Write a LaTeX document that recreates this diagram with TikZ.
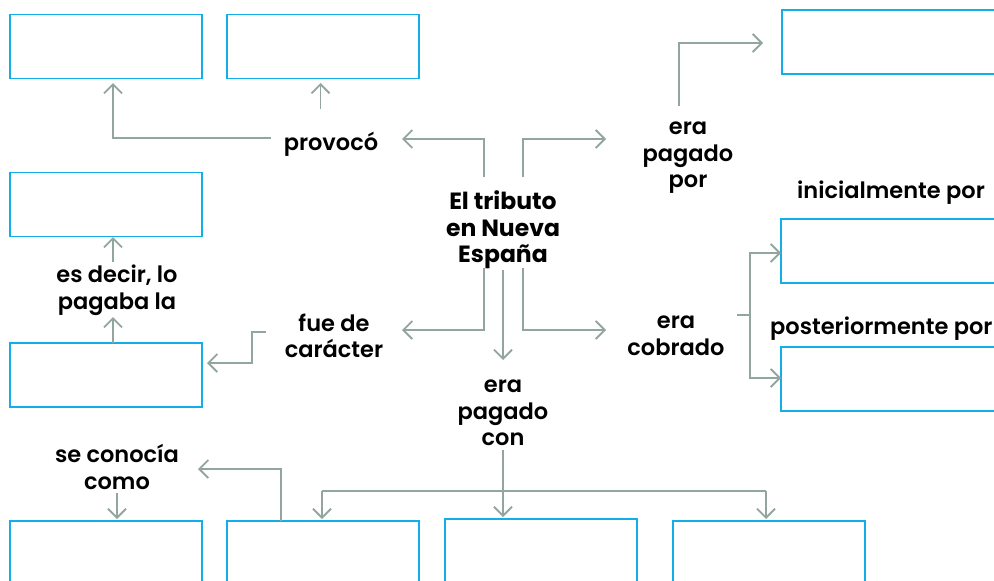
\documentclass[tikz,border=0pt]{standalone}
\usepackage{fontspec}
\setmainfont{Poppins}[UprightFont=* SemiBold, BoldFont=* Bold]
\usetikzlibrary{arrows.meta}
\definecolor{boxblue}{HTML}{12AEEA}
\definecolor{arrgray}{HTML}{93A59F}
\tikzset{
  cbox/.style={draw=boxblue, line width=1.9pt, minimum width=192pt, minimum height=64pt, inner sep=0pt},
  wbox/.style={cbox, minimum width=230pt},
  tbox/.style={cbox, minimum height=80pt},
  lab/.style={align=center, font=\fontsize{22.5}{26.5}\selectfont, inner sep=0pt, text=black},
  ttl/.style={lab, font=\fontsize{23.5}{26.5}\selectfont\bfseries},
  arr/.style={draw=arrgray, line width=1.8pt, -{Straight Barb[length=9pt,width=18pt,line width=1.8pt]}},
  ln/.style={draw=arrgray, line width=1.8pt}
}
\begin{document}
\begin{tikzpicture}[x=1pt,y=-1pt]
\useasboundingbox (0,0) rectangle (994,581);
% boxes
\node[cbox] (b1) at (106,46.5) {};
\node[cbox] (b2) at (323,46.5) {};
\node[cbox] (b3) at (106,204.5) {};
\node[cbox] (b4) at (106,375) {};
\node[wbox] (r1) at (897,42) {};
\node[wbox] (r2) at (896,251) {};
\node[wbox] (r3) at (896,379) {};
\node[tbox] (d1) at (106,561) {};
\node[tbox] (d2) at (323,561) {};
\node[tbox] (d3) at (541,559) {};
\node[tbox] (d4) at (769,561) {};
% labels
\node[ttl] (c) at (503,230) {El tributo\\en Nueva\\España};
\node[lab] (prov) at (331,144) {provocó};
\node[lab] (pagpor) at (688,158) {era\\pagado\\por};
\node[lab] (fue) at (334,336) {fue de\\carácter};
\node[lab] (cob) at (676,336) {era\\cobrado};
\node[lab] (pagcon) at (503,413) {era\\pagado\\con};
\node[lab] (esdec) at (117,290) {es decir, lo\\pagaba la};
\node[lab] (secon) at (117,467) {se conocía\\como};
\node[lab] (ini) at (891,193) {inicialmente por};
\node[lab, anchor=west] (post) at (770,328.5) {posteriormente por};
% coordinates
\coordinate (p1) at (271,138);
\coordinate (p1t) at (113,83);
\coordinate (p2) at (320.5,109);
\coordinate (p2t) at (320.5,83);
\coordinate (cnw) at (484,177);
\coordinate (cnwt) at (402,139);
\coordinate (cne) at (523,177);
\coordinate (cnet) at (606,139);
\coordinate (pp) at (679,106);
\coordinate (ppt) at (763,43);
\coordinate (csw) at (484,268);
\coordinate (cswt) at (402,330);
\coordinate (cse) at (523,268);
\coordinate (cset) at (606,330);
\coordinate (cs) at (503,270);
\coordinate (cst) at (503,360);
\coordinate (f1) at (266,332);
\coordinate (f2) at (252,332);
\coordinate (f3) at (252,363);
\coordinate (f3t) at (207,363);
\coordinate (e1) at (113,343);
\coordinate (e1t) at (113,317);
\coordinate (e2) at (113,262);
\coordinate (e2t) at (113,237);
\coordinate (k0) at (737,315);
\coordinate (k1) at (750,315);
\coordinate (k1t) at (781,253);
\coordinate (k2t) at (781,378);
\coordinate (g0) at (503,450);
\coordinate (g0t) at (503,517);
\coordinate (gl) at (322,491);
\coordinate (glt) at (322,519);
\coordinate (gr) at (766,491);
\coordinate (grt) at (766,519);
\coordinate (s1) at (117,493);
\coordinate (s1t) at (117,519);
\coordinate (s2) at (281,521);
\coordinate (s2t) at (198,469);
% connectors
\draw[arr] (p1) -| (p1t);
\draw[arr] (p2) -- (p2t);
\draw[arr] (cnw) |- (cnwt);
\draw[arr] (cne) |- (cnet);
\draw[arr] (pp) |- (ppt);
\draw[arr] (csw) |- (cswt);
\draw[arr] (cse) |- (cset);
\draw[arr] (cs) -- (cst);
\draw[arr] (f1) -- (f2) -- (f3) -- (f3t);
\draw[arr] (e1) -- (e1t);
\draw[arr] (e2) -- (e2t);
\draw[ln] (k0) -- (k1);
\draw[arr] (k1) |- (k1t);
\draw[arr] (k1) |- (k2t);
\draw[arr] (g0) -- (g0t);
\draw[ln] (gl) -- (gr);
\draw[arr] (gl) -- (glt);
\draw[arr] (gr) -- (grt);
\draw[arr] (s1) -- (s1t);
\draw[arr] (s2) |- (s2t);
\end{tikzpicture}
\end{document}
